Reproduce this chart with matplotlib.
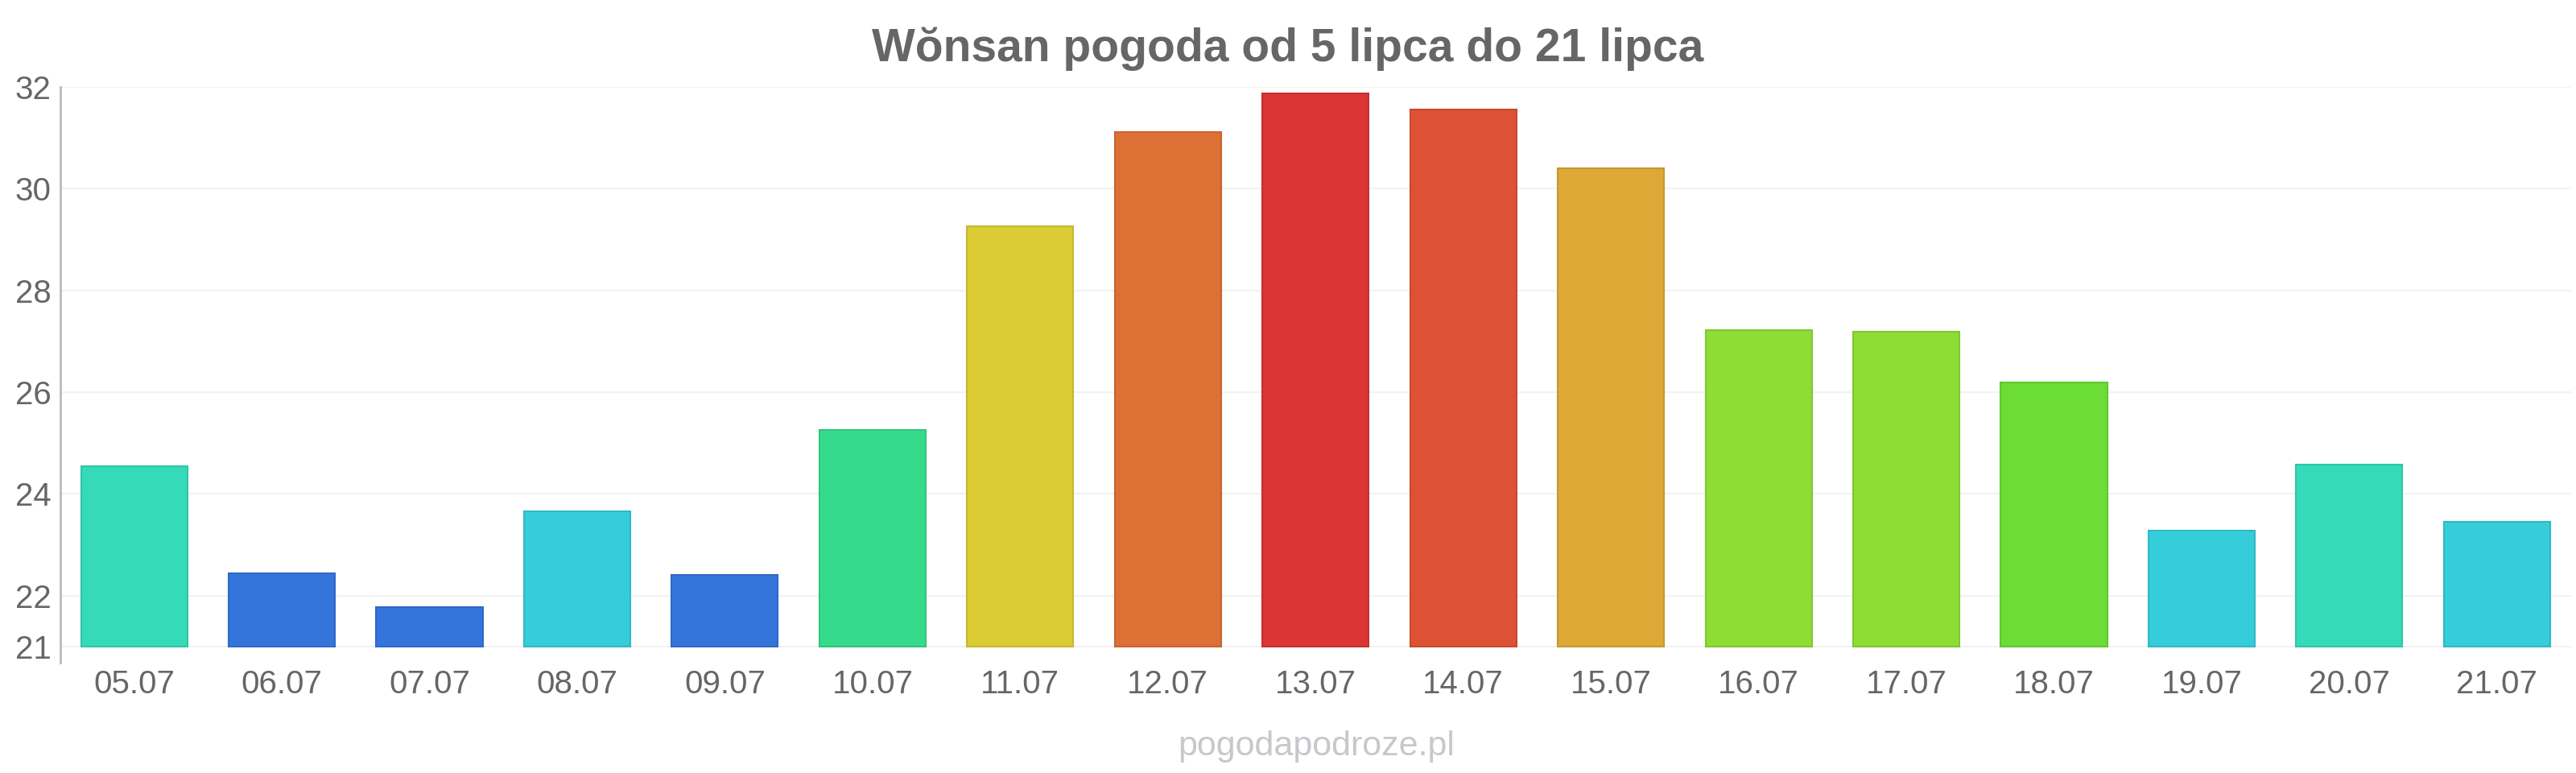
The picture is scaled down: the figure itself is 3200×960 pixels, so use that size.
import matplotlib
matplotlib.use("Agg")
import matplotlib.pyplot as plt
import matplotlib.colors as mcolors

# data
days = ["05.07", "06.07", "07.07", "08.07", "09.07", "10.07", "11.07", "12.07", "13.07",
        "14.07", "15.07", "16.07", "17.07", "18.07", "19.07", "20.07", "21.07"]
temps = [24.54, 22.43, 21.78, 23.66, 22.40, 25.25, 29.26, 31.11, 31.88,
         31.56, 30.40, 27.22, 27.19, 26.19, 23.27, 24.58, 23.45]
bar_colors = ["#35dbb9", "#3575db", "#3575db", "#35cdd9", "#3575db", "#35db8a", "#dbcb35",
              "#dd7035", "#db3535", "#dd5235", "#dda835", "#8ddd35", "#8ddd35", "#6bdd35",
              "#35cdd9", "#35dbb9", "#35cdd9"]
yticks = [21, 22, 24, 26, 28, 30, 32]

title = "Wŏnsan pogoda od 5 lipca do 21 lipca"
watermark = "pogodapodroze.pl"

plt.rcParams["font.family"] = ["Liberation Sans", "DejaVu Sans"]
text_color = "#666666"

fig = plt.figure(figsize=(32, 9.6), dpi=100)
ax = fig.add_axes([0.0234, 0.1427, 0.9746, 0.7448])

base = 21
x = list(range(len(days)))
heights = [t - base for t in temps]
edges = [tuple(c * 0.9 for c in mcolors.to_rgb(col)) for col in bar_colors]
ax.bar(x, heights, bottom=base, width=0.72, color=bar_colors,
       edgecolor=edges, linewidth=1.5, zorder=3)

ax.set_xlim(-0.5, len(days) - 0.5)
ax.set_ylim(20.68, 32)
ax.set_yticks(yticks)
ax.set_yticklabels([str(t) for t in yticks])
ax.set_xticks(x)
ax.set_xticklabels(days)

ax.grid(axis="y", color="#f2f2f2", linewidth=1.5, zorder=0)
ax.tick_params(axis="both", length=0, labelsize=29, colors=text_color)
ax.tick_params(axis="x", pad=6)
ax.tick_params(axis="y", pad=8)
for side in ["top", "right", "bottom"]:
    ax.spines[side].set_visible(False)
ax.spines["left"].set_color("#bbbbbb")
ax.spines["left"].set_linewidth(2)

fig.text(0.5, 0.937, title, ha="center", va="center", fontsize=41,
         fontweight="bold", color=text_color)
fig.text(0.511, 0.034, watermark, ha="center", va="center", fontsize=31,
         color="#c8c8cc")

fig.savefig("out.png", dpi=100, facecolor="white")
